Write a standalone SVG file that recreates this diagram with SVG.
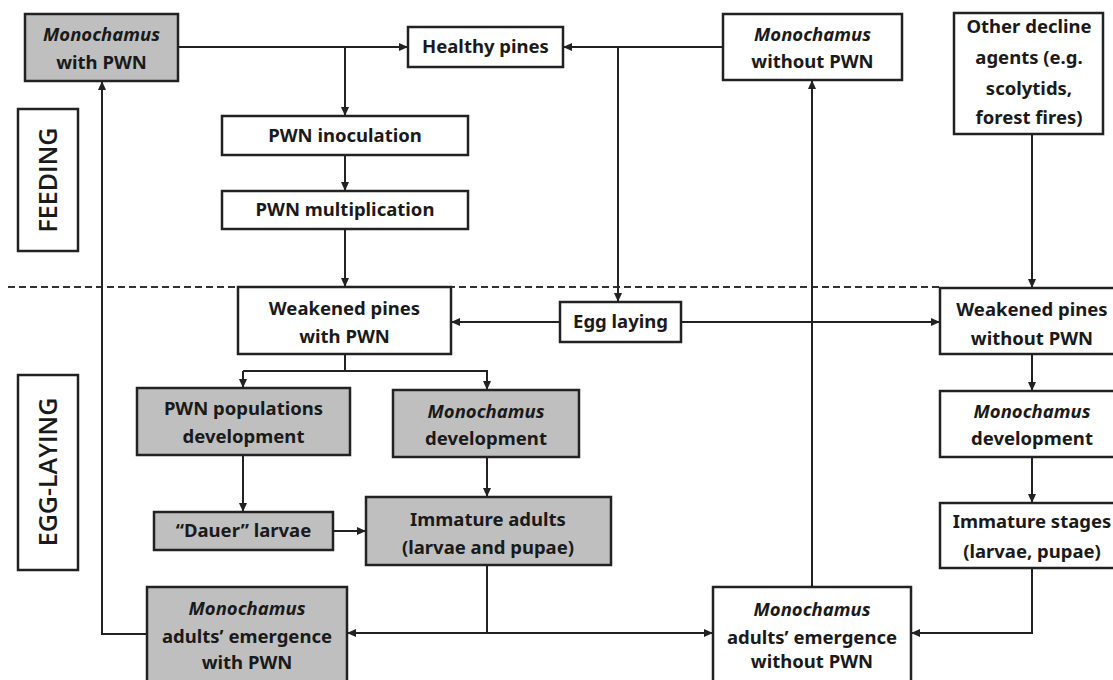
<svg xmlns="http://www.w3.org/2000/svg" width="1113" height="680" viewBox="0 0 1113 680">
<style>
.box{fill:#fff;stroke:#222;stroke-width:2.5}
.gray{fill:#bfbfbf}
.t{font-family:"Noto Sans","Open Sans","Liberation Sans",sans-serif;font-weight:700;font-size:18.5px;fill:#1a1a1a;text-anchor:middle}
.i{font-style:italic}
.lab{font-family:"Open Sans","Noto Sans","Liberation Sans",sans-serif;font-weight:600;font-size:25px;fill:#1a1a1a;text-anchor:middle}
.c{fill:none;stroke:#222;stroke-width:2}
.a{marker-end:url(#ah)}
.dash{fill:none;stroke:#333;stroke-width:1.8;stroke-dasharray:7 4}
</style>
<defs>
<marker id="ah" markerUnits="userSpaceOnUse" markerWidth="9" markerHeight="8" refX="9" refY="4" orient="auto">
<path d="M0,0 L9,4 L0,8 z" fill="#222"/>
</marker>
</defs>
<rect width="1113" height="680" fill="#fff"/>
<path class="dash" d="M8,287 H940"/>
<g id="connectors">
<path class="c a" d="M178,47 H408"/>
<path class="c a" d="M345,47 V116"/>
<path class="c a" d="M723,47 H563"/>
<path class="c a" d="M618,47 V302"/>
<path class="c a" d="M345,155 V191"/>
<path class="c a" d="M345,229 V287"/>
<path class="c a" d="M1032,134 V288"/>
<path class="c a" d="M560,322 H451"/>
<path class="c a" d="M681,322 H940"/>
<path class="c" d="M345,354 V371"/>
<path class="c a" d="M243,371 V388"/>
<path class="c a" d="M243,371 H487 V390"/>
<path class="c a" d="M1032,354 V391"/>
<path class="c a" d="M243,455 V512"/>
<path class="c a" d="M487,457 V497"/>
<path class="c a" d="M333,531 H366"/>
<path class="c a" d="M1032,457 V503"/>
<path class="c" d="M487,565 V633"/>
<path class="c a" d="M487,633 H347"/>
<path class="c a" d="M487,633 H713"/>
<path class="c a" d="M1032,568 V633 H911"/>
<path class="c a" d="M147,634 H102 V81"/>
<path class="c a" d="M812,587 V80"/>
</g>
<g id="n_mono_pwn">
<rect class="box gray" x="25" y="14" width="153" height="67"/>
<text class="t i" x="101.5" y="41">Monochamus</text>
<text class="t" x="101.5" y="69">with PWN</text>
</g>
<g id="n_healthy">
<rect class="box" x="408" y="27" width="155" height="40"/>
<text class="t" x="485.5" y="53">Healthy pines</text>
</g>
<g id="n_mono_nopwn">
<rect class="box" x="723" y="14" width="179" height="66"/>
<text class="t i" x="812.5" y="41">Monochamus</text>
<text class="t" x="812.5" y="68">without PWN</text>
</g>
<g id="n_other">
<rect class="box" x="954" y="13" width="149" height="121"/>
<text class="t" x="1029" y="33">Other decline</text>
<text class="t" x="1029" y="64">agents (e.g.</text>
<text class="t" x="1029" y="95">scolytids,</text>
<text class="t" x="1029" y="124">forest fires)</text>
</g>
<g id="n_feeding">
<rect class="box" x="18" y="109" width="60" height="142"/>
<text class="lab" transform="translate(57,180) rotate(-90)">FEEDING</text>
</g>
<g id="n_egglaying_label">
<rect class="box" x="18" y="375" width="60" height="195"/>
<text class="lab" transform="translate(57,472) rotate(-90)">EGG-LAYING</text>
</g>
<g id="n_inoc">
<rect class="box" x="222" y="116" width="246" height="39"/>
<text class="t" x="345" y="142">PWN inoculation</text>
</g>
<g id="n_mult">
<rect class="box" x="222" y="191" width="246" height="38"/>
<text class="t" x="345" y="216">PWN multiplication</text>
</g>
<g id="n_weak_pwn">
<rect class="box" x="238" y="287" width="213" height="67"/>
<text class="t" x="344.5" y="315">Weakened pines</text>
<text class="t" x="344.5" y="343">with PWN</text>
</g>
<g id="n_egg">
<rect class="box" x="560" y="302" width="121" height="40"/>
<text class="t" x="620.5" y="328">Egg laying</text>
</g>
<g id="n_weak_nopwn">
<rect class="box" x="940" y="288" width="190" height="66"/>
<text class="t" x="1032" y="316">Weakened pines</text>
<text class="t" x="1032" y="345">without PWN</text>
</g>
<g id="n_pwn_pop">
<rect class="box gray" x="137" y="388" width="213" height="67"/>
<text class="t" x="243.5" y="415">PWN populations</text>
<text class="t" x="243.5" y="443">development</text>
</g>
<g id="n_mono_dev">
<rect class="box gray" x="393" y="390" width="186" height="67"/>
<text class="t i" x="486" y="418">Monochamus</text>
<text class="t" x="486" y="445">development</text>
</g>
<g id="n_mono_dev2">
<rect class="box" x="940" y="391" width="190" height="66"/>
<text class="t i" x="1032" y="418">Monochamus</text>
<text class="t" x="1032" y="445">development</text>
</g>
<g id="n_dauer">
<rect class="box gray" x="154" y="512" width="179" height="38"/>
<text class="t" x="243.5" y="537">“Dauer” larvae</text>
</g>
<g id="n_immature">
<rect class="box gray" x="366" y="497" width="245" height="68"/>
<text class="t" x="488" y="526">Immature adults</text>
<text class="t" x="488" y="554">(larvae and pupae)</text>
</g>
<g id="n_stages">
<rect class="box" x="940" y="503" width="190" height="65"/>
<text class="t" x="1032" y="528">Immature stages</text>
<text class="t" x="1032" y="558">(larvae, pupae)</text>
</g>
<g id="n_emerge_pwn">
<rect class="box gray" x="147" y="587" width="200" height="110"/>
<text class="t i" x="247" y="615">Monochamus</text>
<text class="t" x="247" y="643">adults’ emergence</text>
<text class="t" x="247" y="669">with PWN</text>
</g>
<g id="n_emerge_nopwn">
<rect class="box" x="713" y="587" width="198" height="110"/>
<text class="t i" x="812" y="616">Monochamus</text>
<text class="t" x="812" y="644">adults’ emergence</text>
<text class="t" x="812" y="668">without PWN</text>
</g>
</svg>
